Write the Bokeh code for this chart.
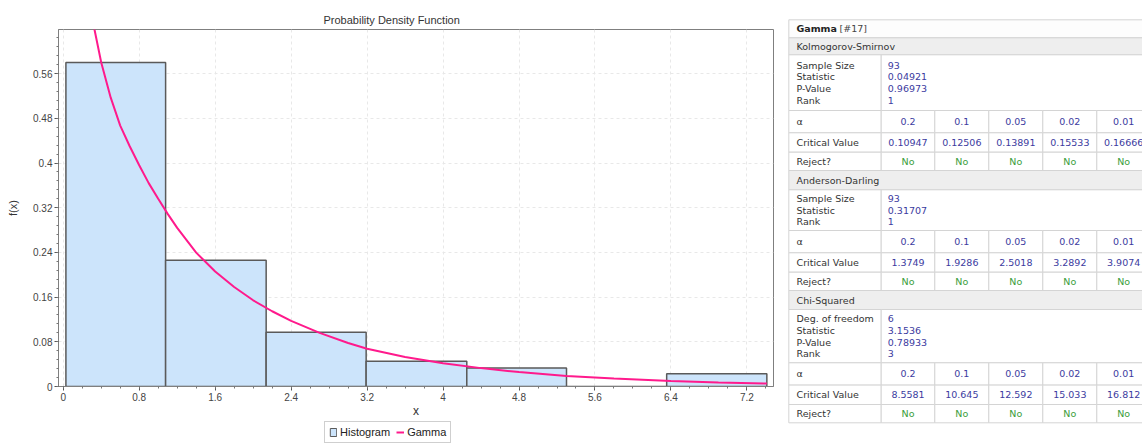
import numpy as np
from bokeh.plotting import figure
from bokeh.models import Range1d, FixedTicker, Legend, LegendItem
from bokeh.layouts import row, column
from bokeh.embed import file_html
from bokeh.resources import INLINE
from bokeh.core.properties import value

# ---------------- data ----------------
bin_edges = [0.028, 1.078, 2.137, 3.19, 4.25, 5.30, 6.355, 7.41]
hist_density = [0.58, 0.226, 0.097, 0.045, 0.033, 0.0, 0.023]

gamma_x = [0.30, 0.33, 0.40, 0.50, 0.60, 0.70, 0.80, 0.90, 1.00, 1.10, 1.20,
           1.40, 1.60, 1.80, 2.00, 2.20, 2.40, 2.70, 3.00, 3.20, 3.60, 4.00,
           4.40, 4.80, 5.30, 5.80, 6.40, 6.90, 7.41]
gamma_y = [0.665, 0.638, 0.58, 0.517, 0.467, 0.430, 0.396, 0.364, 0.336, 0.309,
           0.284, 0.2396, 0.2058, 0.178, 0.1543, 0.1347, 0.1175, 0.0959, 0.0778,
           0.0676, 0.0527, 0.0418, 0.0329, 0.0258, 0.0190, 0.0142, 0.0099,
           0.0073, 0.0054]

x_ticks = [0, 0.8, 1.6, 2.4, 3.2, 4, 4.8, 5.6, 6.4, 7.2]
x_tick_labels = ["0", "0.8", "1.6", "2.4", "3.2", "4", "4.8", "5.6", "6.4", "7.2"]
y_ticks = [0, 0.08, 0.16, 0.24, 0.32, 0.4, 0.48, 0.56]
y_tick_labels = ["0", "0.08", "0.16", "0.24", "0.32", "0.4", "0.48", "0.56"]

legend_labels = ["Histogram", "Gamma"]

dist_name = "Gamma"
dist_id = "[#17]"
alphas = ["0.2", "0.1", "0.05", "0.02", "0.01"]

ks_labels = ["Sample Size", "Statistic", "P-Value", "Rank"]
ks_values = ["93", "0.04921", "0.96973", "1"]
ks_crit = ["0.10947", "0.12506", "0.13891", "0.15533", "0.16666"]
ks_reject = ["No", "No", "No", "No", "No"]

ad_labels = ["Sample Size", "Statistic", "Rank"]
ad_values = ["93", "0.31707", "1"]
ad_crit = ["1.3749", "1.9286", "2.5018", "3.2892", "3.9074"]
ad_reject = ["No", "No", "No", "No", "No"]

cs_labels = ["Deg. of freedom", "Statistic", "P-Value", "Rank"]
cs_values = ["6", "3.1536", "0.78933", "3"]
cs_crit = ["8.5581", "10.645", "12.592", "15.033", "16.812"]
cs_reject = ["No", "No", "No", "No", "No"]

HIST_FILL, HIST_LINE, CURVE = "#cce4fb", "#5a5a5a", "#ff1a8c"

# ---------------- chart ----------------
CW, CH, LH = 786, 420, 24
p = figure(width=CW, height=CH, x_range=Range1d(-0.05, 7.48), y_range=Range1d(0, 0.639),
           output_backend="svg", toolbar_location=None,
           min_border_left=58, min_border_right=13, min_border_top=29, min_border_bottom=34,
           background_fill_color="white", border_fill_color="white",
           outline_line_color="#7f7f7f", outline_line_width=1,
           title="Probability Density Function")
p.title.text_font = "Liberation Sans"
p.title.text_font_size = "11px"
p.title.text_font_style = "normal"
p.title.text_color = "#333333"
p.title.align = "left"
p.title.offset = 265
p.title.standoff = 8

xt = FixedTicker(ticks=x_ticks, minor_ticks=[round(v, 3) for v in np.arange(0, 7.5, 0.2)])
yt = FixedTicker(ticks=y_ticks, minor_ticks=[round(v, 4) for v in np.arange(0, 0.64, 0.016)])
p.xaxis.ticker = xt
p.yaxis.ticker = yt
p.xaxis.major_label_overrides = dict(zip(x_ticks, x_tick_labels))
p.yaxis.major_label_overrides = dict(zip(y_ticks, y_tick_labels))
for ax in (p.xaxis, p.yaxis):
    ax.axis_line_color = "#7f7f7f"
    ax.major_tick_line_color = "#555555"
    ax.minor_tick_line_color = "#777777"
    ax.major_tick_out = 4
    ax.major_tick_in = 0
    ax.minor_tick_out = 2
    ax.minor_tick_in = 0
    ax.major_label_text_font = "Liberation Sans"
    ax.major_label_text_font_size = "10px"
    ax.major_label_text_color = "#444444"
    ax.major_label_standoff = 2
    ax.axis_label_text_font = "Liberation Sans"
    ax.axis_label_text_font_style = "normal"
    ax.axis_label_text_color = "#333333"
p.xaxis.axis_label = "x"
p.xaxis.axis_label_text_font_size = "12px"
p.xaxis.axis_label_standoff = 0
p.yaxis.axis_label = "f(x)"
p.yaxis.axis_label_text_font_size = "11px"
p.yaxis.axis_label_standoff = 11

p.xgrid.grid_line_color = "#e8e8e8"
p.xgrid.grid_line_dash = "3 3"
p.ygrid.grid_line_color = "#e8e8e8"
p.ygrid.grid_line_dash = "3 3"

p.quad(left=bin_edges[:-1], right=bin_edges[1:], top=hist_density, bottom=0,
       fill_color=HIST_FILL, line_color=HIST_LINE, line_width=1.5)
p.line(gamma_x, gamma_y, line_color=CURVE, line_width=2)

# ---------------- legend strip under the chart ----------------
lf = figure(width=CW, height=LH, x_range=Range1d(0, 1), y_range=Range1d(0, 1),
            output_backend="svg", toolbar_location=None, min_border=0,
            x_axis_location=None, y_axis_location=None,
            outline_line_color=None, background_fill_color="white", border_fill_color="white")
lf.grid.visible = False
# swatch-only renderers: their marks lie outside this strip's ranges, so only the legend shows them
r_hist = lf.quad(left=[5], right=[6], top=[6], bottom=[5], fill_color=HIST_FILL,
                 line_color=HIST_LINE, line_width=1)
r_curve = lf.line(x=[5, 6], y=[5, 5], line_color=CURVE, line_width=2)
legend = Legend(items=[LegendItem(label=legend_labels[0], renderers=[r_hist]),
                       LegendItem(label=legend_labels[1], renderers=[r_curve])],
                orientation="horizontal", location=(324, 1),
                border_line_color="#a0a0a0", border_line_width=1,
                background_fill_color="white", background_fill_alpha=1,
                padding=4, spacing=6, margin=0, glyph_width=8, glyph_height=10,
                label_height=10, label_standoff=3,
                label_text_font="Liberation Sans", label_text_font_size="11px",
                label_text_color="#222222")
lf.add_layout(legend)

# ---------------- table ----------------
TW, TH = 1142 - CW, CH + LH
t = figure(width=TW, height=TH, x_range=Range1d(0, TW), y_range=Range1d(TH, 0),
           output_backend="svg", toolbar_location=None, min_border=0,
           x_axis_location=None, y_axis_location=None,
           outline_line_color=None, background_fill_color="white", border_fill_color="white")
t.grid.visible = False
for fig in (p, lf, t):
    try:
        fig.frame_align = False
    except Exception:
        pass

TF = value("DejaVu Sans")
FS = "9.5px"
X0, XL = 2.3, 94.7
col_edges = [94.7, 148.3, 202.3, 256.3, 310.3, 364.0]
TX, VX = 10.0, 101.3
LINE = 11.7
hdr_h = [17.0, 19.3, 19.0]
stats_h = [55.7, 40.7, 53.3]
ALPHA_H, CRIT_H, REJ_H = 22.3, 19.4, 18.3

cells = dict(left=[], right=[], top=[], bottom=[], fill=[])
lab = dict(x=[], y=[], text=[])       # left aligned dark labels
val = dict(x=[], y=[], text=[])       # left aligned blue values
cen = dict(x=[], y=[], text=[])       # centred blue values
no = dict(x=[], y=[], text=[])        # centred green


def cell(x0, x1, y0, y1, fill="white"):
    cells["left"].append(x0); cells["right"].append(x1)
    cells["top"].append(y0); cells["bottom"].append(y1); cells["fill"].append(fill)


y = 19.3
cell(X0, col_edges[-1], y, y + 18, "#fdfdfd")
title_y = y + 9
y += 18

sections = [("Kolmogorov-Smirnov", ks_labels, ks_values, ks_crit, ks_reject),
            ("Anderson-Darling", ad_labels, ad_values, ad_crit, ad_reject),
            ("Chi-Squared", cs_labels, cs_values, cs_crit, cs_reject)]
for k, (name, labels, values, crit, rej) in enumerate(sections):
    h = hdr_h[k]
    cell(X0, col_edges[-1], y, y + h, "#eeeeee")
    lab["x"].append(TX); lab["y"].append(y + h / 2); lab["text"].append(name)
    y += h
    h = stats_h[k]
    cell(X0, XL, y, y + h); cell(XL, col_edges[-1], y, y + h)
    n = len(labels)
    mid = y + h / 2
    for i, (a, b) in enumerate(zip(labels, values)):
        yy = mid + (i - (n - 1) / 2) * LINE
        lab["x"].append(TX); lab["y"].append(yy); lab["text"].append(a)
        val["x"].append(VX); val["y"].append(yy); val["text"].append(b)
    y += h
    for rowname, rowvals, hh, target in (("α", alphas, ALPHA_H, cen),
                                          ("Critical Value", crit, CRIT_H, cen),
                                          ("Reject?", rej, REJ_H, no)):
        cell(X0, XL, y, y + hh)
        lab["x"].append(TX); lab["y"].append(y + hh / 2); lab["text"].append(rowname)
        for j, v in enumerate(rowvals):
            cell(col_edges[j], col_edges[j + 1], y, y + hh)
            target["x"].append((col_edges[j] + col_edges[j + 1]) / 2)
            target["y"].append(y + hh / 2)
            target["text"].append(v)
        y += hh

t.quad(left="left", right="right", top="top", bottom="bottom", fill_color="fill",
       line_color="#d4d4d4", line_width=1, source=cells)

t.text(x=[TX], y=[title_y], text=[dist_name], text_font=TF, text_font_size="9.5px",
       text_font_style="bold", text_color="#222222", text_baseline="middle", text_align="left")
t.text(x=[53.0], y=[title_y], text=[dist_id], text_font=TF, text_font_size=FS,
       text_color="#444444", text_baseline="middle", text_align="left")
t.text(x="x", y="y", text="text", source=lab, text_font=TF, text_font_size=FS,
       text_color="#333333", text_baseline="middle", text_align="left")
t.text(x="x", y="y", text="text", source=val, text_font=TF, text_font_size=FS,
       text_color="#3b3ba0", text_baseline="middle", text_align="left")
t.text(x="x", y="y", text="text", source=cen, text_font=TF, text_font_size=FS,
       text_color="#3b3ba0", text_baseline="middle", text_align="center")
t.text(x="x", y="y", text="text", source=no, text_font=TF, text_font_size=FS,
       text_color="#3a9e3a", text_baseline="middle", text_align="center")

layout = row(column(p, lf), t)
open("out.html", "w").write(file_html(layout, INLINE))
